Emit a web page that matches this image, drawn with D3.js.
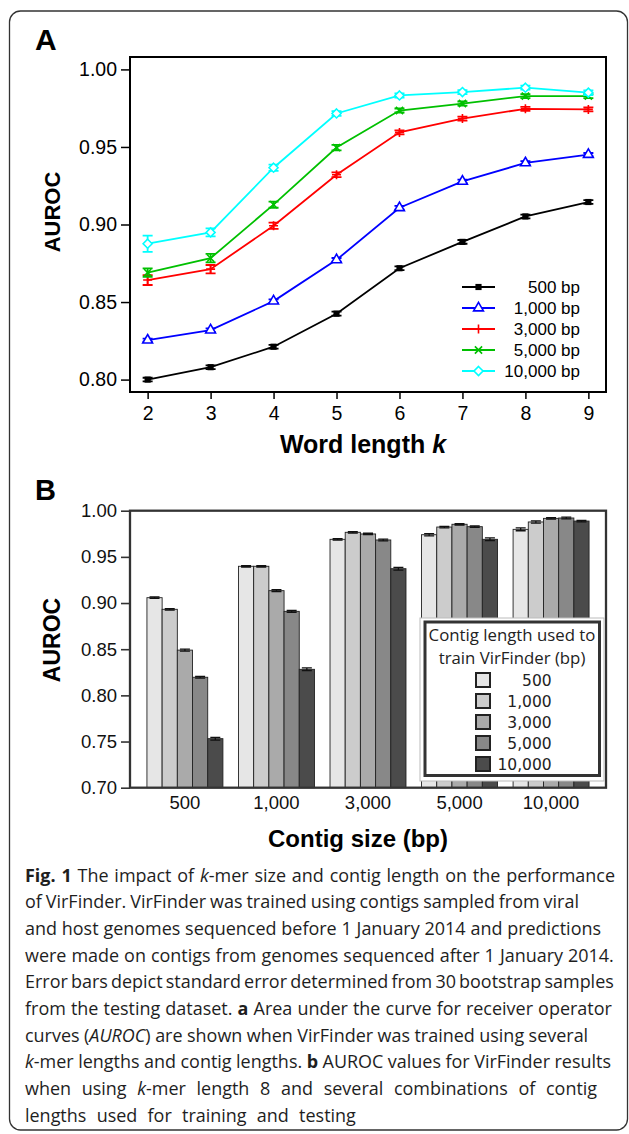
<!DOCTYPE html>
<html><head><meta charset="utf-8">
<script src="https://cdn.jsdelivr.net/npm/d3@7"></script>
<style>body{margin:0;background:#fff}svg{display:block}</style>
</head><body>
<svg id="c" width="629" height="1134"></svg>
<script>
// ---------- Panel A data ----------
const kValues = [2, 3, 4, 5, 6, 7, 8, 9];
const seriesNames = ["500 bp", "1,000 bp", "3,000 bp", "5,000 bp", "10,000 bp"];
const auroc500   = [0.8000, 0.8080, 0.8212, 0.8425, 0.8718, 0.8888, 0.9052, 0.9145];
const auroc1000  = [0.8254, 0.8319, 0.8506, 0.8772, 0.9108, 0.9278, 0.9397, 0.9451];
const auroc3000  = [0.8642, 0.8712, 0.8992, 0.9321, 0.9594, 0.9683, 0.9746, 0.9742];
const auroc5000  = [0.8690, 0.8783, 0.9128, 0.9496, 0.9735, 0.9780, 0.9828, 0.9828];
const auroc10000 = [0.8876, 0.8949, 0.9366, 0.9716, 0.9832, 0.9854, 0.9882, 0.9850];
const err500   = [0.0012, 0.0012, 0.0012, 0.0013, 0.0012, 0.0012, 0.0012, 0.0012];
const err1000  = [0.0010, 0.0011, 0.0011, 0.0012, 0.0012, 0.0011, 0.0011, 0.0010];
const err3000  = [0.0032, 0.0027, 0.0020, 0.0015, 0.0013, 0.0013, 0.0013, 0.0013];
const err5000  = [0.0027, 0.0027, 0.0020, 0.0018, 0.0013, 0.0013, 0.0013, 0.0013];
const err10000 = [0.0052, 0.0026, 0.0020, 0.0015, 0.0013, 0.0013, 0.0013, 0.0015];
const yTicksA = [0.80, 0.85, 0.90, 0.95, 1.00];

// ---------- Panel B data ----------
const contigSizes  = ["500", "1,000", "3,000", "5,000", "10,000"];   // test contig size
const trainLengths = ["500", "1,000", "3,000", "5,000", "10,000"];   // training length
const barsTest500   = [0.9058, 0.8932, 0.8490, 0.8196, 0.7531];
const barsTest1000  = [0.9398, 0.9398, 0.9134, 0.8910, 0.8282];
const barsTest3000  = [0.9690, 0.9766, 0.9748, 0.9683, 0.9372];
const barsTest5000  = [0.9740, 0.9823, 0.9853, 0.9827, 0.9690];
const barsTest10000 = [0.9798, 0.9878, 0.9917, 0.9921, 0.9888];
const errTest500   = [0.0008, 0.0008, 0.0010, 0.0010, 0.0015];
const errTest1000  = [0.0008, 0.0008, 0.0010, 0.0010, 0.0015];
const errTest3000  = [0.0008, 0.0008, 0.0008, 0.0010, 0.0015];
const errTest5000  = [0.0012, 0.0008, 0.0008, 0.0008, 0.0015];
const errTest10000 = [0.0015, 0.0012, 0.0008, 0.0010, 0.0008];
const yTicksB = [0.70, 0.75, 0.80, 0.85, 0.90, 0.95, 1.00];
const legendTitleB = ["Contig length used to", "train VirFinder (bp)"];

// ---------- Caption ----------
const captionLines = [
  [["Fig. 1","b"],[" The impact of ",""],["k","i"],["-mer size and contig length on the performance",""]],
  [["of VirFinder. VirFinder was trained using contigs sampled from viral",""]],
  [["and host genomes sequenced before 1 January 2014 and predictions",""]],
  [["were made on contigs from genomes sequenced after 1 January 2014.",""]],
  [["Error bars depict standard error determined from 30 bootstrap samples",""]],
  [["from the testing dataset. ",""],["a","b"],[" Area under the curve for receiver operator",""]],
  [["curves (",""],["AUROC","i"],[") are shown when VirFinder was trained using several",""]],
  [["k","i"],["-mer lengths and contig lengths. ",""],["b","b"],[" AUROC values for VirFinder results",""]],
  [["when using ",""],["k","i"],["-mer length 8 and several combinations of contig",""]],
  [["lengths used for training and testing",""]]
];

// =====================================================
const svg = d3.select("#c");
const SANS = "'Liberation Sans', Arial, Helvetica, sans-serif";

svg.append("rect").attr("x", 9.5).attr("y", 11).attr("width", 618).attr("height", 1119)
  .attr("rx", 11).attr("fill", "none").attr("stroke", "#333").attr("stroke-width", 1.3);

// ---------------- Panel A ----------------
const seriesA = [
  {name: seriesNames[0], vals: auroc500,   err: err500,   color: "#000000", shape: "square"},
  {name: seriesNames[1], vals: auroc1000,  err: err1000,  color: "#0000ff", shape: "triangle"},
  {name: seriesNames[2], vals: auroc3000,  err: err3000,  color: "#ff0000", shape: "plus"},
  {name: seriesNames[3], vals: auroc5000,  err: err5000,  color: "#00c000", shape: "cross"},
  {name: seriesNames[4], vals: auroc10000, err: err10000, color: "#00ffff", shape: "diamond"}
];
const xA = d3.scaleLinear().domain([1.72, 9.28]).range([130, 606]);
const yA = d3.scaleLinear().domain([0.792, 1.008]).range([392, 57]);

svg.append("text").attr("x", 35).attr("y", 50).attr("font-family", SANS)
  .attr("font-weight", 700).attr("font-size", 30).text("A");

const gAy = svg.append("g").attr("transform", "translate(130,0)")
  .call(d3.axisLeft(yA).tickValues(yTicksA).tickFormat(d3.format(".2f")).tickSize(9).tickPadding(4));
const gAx = svg.append("g").attr("transform", "translate(0,392)")
  .call(d3.axisBottom(xA).tickValues(kValues).tickFormat(d3.format("d")).tickSize(7).tickPadding(7));
[gAy, gAx].forEach(g => {
  g.select(".domain").remove();
  g.selectAll("line").attr("stroke", "#000").attr("stroke-width", 1.5);
  g.selectAll("text").attr("font-family", SANS).attr("font-size", 19.5).attr("fill", "#000");
});

function markerPath(shape) {
  switch (shape) {
    case "square": return d3.symbol(d3.symbolSquare, 38)();
    case "triangle": return d3.symbol(d3.symbolTriangle, 42)();
    case "plus": return "M-4.5,0H4.5M0,-4.5V4.5";
    case "cross": return "M-3.6,-3.6L3.6,3.6M-3.6,3.6L3.6,-3.6";
    case "diamond": return "M0,-4.5L4.5,0L0,4.5L-4.5,0Z";
  }
}
function drawMarker(g, s, x, y) {
  const p = g.append("path").attr("d", markerPath(s.shape)).attr("transform", `translate(${x},${y})`);
  if (s.shape === "square") p.attr("fill", s.color);
  else p.attr("fill", s.shape === "plus" || s.shape === "cross" ? "none" : "#fff")
        .attr("stroke", s.color).attr("stroke-width", 1.6);
}

const lineGen = d3.line().x((d, i) => xA(kValues[i])).y(d => yA(d));
const gLines = svg.append("g");
seriesA.forEach(s => {
  const g = gLines.append("g");
  g.append("path").datum(s.vals).attr("d", lineGen).attr("fill", "none")
    .attr("stroke", s.color).attr("stroke-width", 1.8);
  s.vals.forEach((v, i) => {
    const x = xA(kValues[i]), y1 = yA(v - s.err[i]), y2 = yA(v + s.err[i]);
    g.append("path").attr("d", `M${x},${y1}V${y2}M${x-5},${y1}H${x+5}M${x-5},${y2}H${x+5}`)
      .attr("stroke", s.color).attr("stroke-width", 1.8).attr("fill", "none");
    drawMarker(g, s, x, yA(v));
  });
});

svg.append("rect").attr("x", 130).attr("y", 57).attr("width", 476).attr("height", 335)
  .attr("fill", "none").attr("stroke", "#000").attr("stroke-width", 2);

// legend A
const legA = svg.append("g");
seriesA.forEach((s, i) => {
  const y = 287 + i * 21;
  legA.append("line").attr("x1", 462).attr("x2", 495).attr("y1", y).attr("y2", y)
    .attr("stroke", s.color).attr("stroke-width", 2);
  drawMarker(legA, s, 478.5, y);
  legA.append("text").attr("x", 580).attr("y", y).attr("dy", "0.35em").attr("text-anchor", "end")
    .attr("font-family", SANS).attr("font-size", 17).text(s.name);
});

svg.append("text").attr("transform", "translate(60,212) rotate(-90)").attr("text-anchor", "middle")
  .attr("font-family", SANS).attr("font-weight", 700).attr("font-size", 22).text("AUROC");
const xl = svg.append("text").attr("x", 363).attr("y", 453).attr("text-anchor", "middle")
  .attr("font-family", SANS).attr("font-weight", 700).attr("font-size", 25);
xl.append("tspan").text("Word length ");
xl.append("tspan").attr("font-style", "italic").text("k");

// ---------------- Panel B ----------------
const barGroups = [barsTest500, barsTest1000, barsTest3000, barsTest5000, barsTest10000];
const barErrs = [errTest500, errTest1000, errTest3000, errTest5000, errTest10000];
const barColors = ["#e6e6e6", "#cccccc", "#aaaaaa", "#888888", "#4b4b4b"];

const xB = d3.scaleBand().domain(contigSizes).range([130, 606]).paddingInner(0.17).paddingOuter(0.185);
const xInner = d3.scaleBand().domain(trainLengths).range([0, xB.bandwidth()]);
const yB = d3.scaleLinear().domain([0.70, 1.00]).range([787.7, 510.7]);
const colorB = d3.scaleOrdinal().domain(trainLengths).range(barColors);

svg.append("text").attr("x", 35).attr("y", 500).attr("font-family", SANS)
  .attr("font-weight", 700).attr("font-size", 29).text("B");

const gBars = svg.append("g");
contigSizes.forEach((cs, gi) => {
  trainLengths.forEach((tl, ti) => {
    const v = barGroups[gi][ti], e = barErrs[gi][ti];
    const x = xB(cs) + xInner(tl), w = xInner.bandwidth();
    gBars.append("rect").attr("x", x).attr("y", yB(v)).attr("width", w)
      .attr("height", yB(0.70) - yB(v)).attr("fill", colorB(tl))
      .attr("stroke", "#222").attr("stroke-width", 0.9);
    const cx = x + w / 2, y1 = yB(v - e), y2 = yB(v + e);
    gBars.append("path").attr("d", `M${cx},${y1}V${y2}M${cx-5},${y1}H${cx+5}M${cx-5},${y2}H${cx+5}`)
      .attr("stroke", "#111").attr("stroke-width", 1.3).attr("fill", "none");
  });
});

svg.append("rect").attr("x", 130).attr("y", 510.7).attr("width", 476).attr("height", 277)
  .attr("fill", "none").attr("stroke", "#333").attr("stroke-width", 2.3);

const gBy = svg.append("g").attr("transform", "translate(130,0)")
  .call(d3.axisLeft(yB).tickValues(yTicksB).tickFormat(d3.format(".2f")).tickSize(9).tickPadding(4));
const gBx = svg.append("g").attr("transform", "translate(0,787.7)")
  .call(d3.axisBottom(xB).tickSize(0).tickPadding(8));
[gBy, gBx].forEach(g => {
  g.select(".domain").remove();
  g.selectAll("line").attr("stroke", "#333").attr("stroke-width", 1.6);
  g.selectAll("text").attr("font-family", SANS).attr("font-size", 18.5).attr("fill", "#111");
});

// legend B
const legB = svg.append("g");
legB.append("rect").attr("x", 420).attr("y", 618).attr("width", 184).attr("height", 163)
  .attr("fill", "#fff").attr("stroke", "#bbb").attr("stroke-width", 1);
legB.append("rect").attr("x", 425).attr("y", 622).attr("width", 174.5).attr("height", 153.5)
  .attr("fill", "#fff").attr("stroke", "#333").attr("stroke-width", 3);
legendTitleB.forEach((t, i) => {
  legB.append("text").attr("x", 512).attr("y", 641.3 + i * 22.4).attr("text-anchor", "middle")
    .attr("font-family", "'Open Sans', sans-serif").attr("font-size", 16.8).attr("fill", "#222").text(t);
});
trainLengths.forEach((tl, i) => {
  const y = 680 + i * 21;
  legB.append("rect").attr("x", 476).attr("y", y - 7).attr("width", 14).attr("height", 14)
    .attr("fill", colorB(tl)).attr("stroke", "#222").attr("stroke-width", 2);
  legB.append("text").attr("x", 551.7).attr("y", y).attr("dy", "0.36em").attr("text-anchor", "end")
    .attr("font-family", "'DejaVu Sans', sans-serif").attr("font-size", 15.5).attr("fill", "#222").text(tl);
});

svg.append("text").attr("transform", "translate(60,640) rotate(-90)").attr("text-anchor", "middle")
  .attr("font-family", SANS).attr("font-weight", 700).attr("font-size", 23).text("AUROC");
svg.append("text").attr("x", 358).attr("y", 847).attr("text-anchor", "middle")
  .attr("font-family", SANS).attr("font-weight", 700).attr("font-size", 24).text("Contig size (bp)");

// ---------------- Caption ----------------
const captionEnds = [615.7, 579.6, 601.7, 614.5, 614.5, 612.5, 588.8, 611.7, 597.7, 356.2];
const capX = 25, capY0 = 881.7, capDy = 26.67;
const gCap = svg.append("g");
const capTexts = captionLines.map((segs, li) => {
  const t = gCap.append("text").attr("font-family", "'Open Sans', sans-serif")
    .attr("font-size", 17.5).attr("fill", "#1e1e1e");
  segs.forEach(([s, st]) => {
    const ts = t.append("tspan").text(s);
    if (st === "b") ts.attr("font-weight", 700);
    if (st === "i") ts.attr("font-style", "italic");
  });
  return t;
});
const natural = capTexts.map(t => t.node().getComputedTextLength());
const ratios = natural.slice(0, 8).map((w, i) => (captionEnds[i] - capX) / w).sort((a, b) => a - b);
const sx = (ratios[3] + ratios[4]) / 2;
capTexts.forEach((t, i) => {
  const full = captionLines[i].map(d => d[0]).join("");
  const nSp = (full.match(/ /g) || []).length;
  const ws = ((captionEnds[i] - capX) / sx - natural[i]) / nSp;
  t.style("word-spacing", ws + "px")
   .attr("transform", `translate(${capX},${capY0 + i * capDy}) scale(${sx},1)`);
});
</script>
</body></html>
